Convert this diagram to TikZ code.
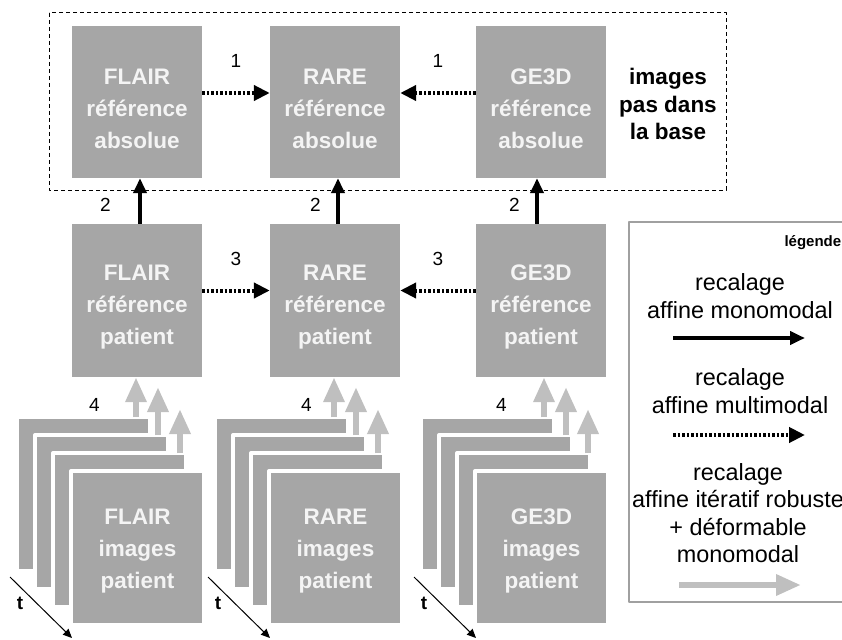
\documentclass[tikz,border=0pt]{standalone}
\usepackage{fontspec}
\setmainfont{Liberation Sans}
\usetikzlibrary{arrows.meta,positioning}
\definecolor{BoxGray}{HTML}{A6A6A6}
\definecolor{BoxText}{HTML}{F4F4F4}
\definecolor{ArrowGray}{HTML}{BFBFBF}
\definecolor{LegendGray}{HTML}{A0A0A0}
\newcommand{\reflift}{\rule{0pt}{29pt}}
\newcommand{\imglift}{\rule{0pt}{22pt}}

\begin{document}
\begin{tikzpicture}[x=1pt,y=-1pt,line join=round,
  refbox/.style={fill=BoxGray,text=BoxText,minimum width=130pt,minimum height=152pt,
    inner sep=0pt,align=center,font=\fontsize{22.5}{32}\selectfont\bfseries},
  imgframe/.style={refbox,draw=white,line width=4pt,outer sep=0pt,
    minimum width=133pt,minimum height=154pt},
  mono/.style={line width=4.5pt,-{Triangle[length=15pt,width=13pt]}},
  multi/.style={line width=4pt,dash pattern=on 2.5pt off 2pt,-{Triangle[length=16pt,width=15pt]}},
  deform/.style={draw=ArrowGray,line width=6.5pt,-{Triangle[length=25pt,width=20pt]}},
  taxis/.style={line width=1pt,-{Triangle[length=9pt,width=8pt]}},
  num/.style={font=\fontsize{19}{22}\selectfont,inner sep=2pt},
  tlabel/.style={font=\fontsize{19}{22}\selectfont\bfseries,inner sep=2pt},
  legtext/.style={align=center,font=\fontsize{23.4}{27.5}\selectfont}]
  \useasboundingbox (0,0) rectangle (842,639);

  % references absolues
  \draw[line width=1pt,dash pattern=on 4pt off 3pt] (49,13) rectangle (726,190);
  \node[refbox] (absFLAIR) at (137,102) {\reflift FLAIR\\référence\\absolue};
  \node[refbox] (absRARE) at (335,102) {\reflift RARE\\référence\\absolue};
  \node[refbox] (absGE3D) at (541,102) {\reflift GE3D\\référence\\absolue};
  \node[align=center,font=\fontsize{22.5}{27.5}\selectfont\bfseries] (nobase) at (668,104) {images\\pas dans\\la base};

  % references patient
  \node[refbox,minimum height=153pt] (patFLAIR) at (137,300.5) {\reflift FLAIR\\référence\\patient};
  \node[refbox,minimum height=153pt] (patRARE) at (335,300.5) {\reflift RARE\\référence\\patient};
  \node[refbox,minimum height=153pt] (patGE3D) at (541,300.5) {\reflift GE3D\\référence\\patient};

  % piles d'images
  \node[imgframe] (FLAIRa) at (83.5,494) {};
  \node[imgframe] (FLAIRb) at (101.5,512) {};
  \node[imgframe] (FLAIRc) at (119.5,530) {};
  \node[imgframe] (imgFLAIR) at (137.5,548) {\imglift FLAIR\\images\\patient};
  \node[imgframe] (RAREa) at (281.5,494) {};
  \node[imgframe] (RAREb) at (299.5,512) {};
  \node[imgframe] (RAREc) at (317.5,530) {};
  \node[imgframe] (imgRARE) at (335.5,548) {\imglift RARE\\images\\patient};
  \node[imgframe] (GE3Da) at (487.5,494) {};
  \node[imgframe] (GE3Db) at (505.5,512) {};
  \node[imgframe] (GE3Dc) at (523.5,530) {};
  \node[imgframe] (imgGE3D) at (541.5,548) {\imglift GE3D\\images\\patient};

  % recalages
  \draw[multi] ([yshift=9pt]absFLAIR.east) -- node[num,above=21pt] (oneL) {1} ([yshift=9pt]absRARE.west);
  \draw[multi] ([yshift=9pt]absGE3D.west) -- node[num,above=21pt] (oneR) {1} ([yshift=9pt]absRARE.east);
  \draw[multi] ([yshift=10pt]patFLAIR.east) -- node[num,above=21pt] (threeL) {3} ([yshift=10pt]patRARE.west);
  \draw[multi] ([yshift=10pt]patGE3D.west) -- node[num,above=21pt] (threeR) {3} ([yshift=10pt]patRARE.east);
  \draw[mono] ([xshift=3pt]patFLAIR.north) -- node[num,left=25pt,yshift=-4pt] (twoF) {2} ([xshift=3pt]absFLAIR.south);
  \draw[mono] ([xshift=3pt]patRARE.north) -- node[num,left=13pt,yshift=-4pt] (twoR) {2} ([xshift=3pt]absRARE.south);
  \draw[mono] ([xshift=-4pt]patGE3D.north) -- node[num,left=13pt,yshift=-4pt] (twoG) {2} ([xshift=-4pt]absGE3D.south);

  \draw[deform] ([xshift=52.5pt]FLAIRa.north) -- node[num,pos=.3,left=31pt] (fourF) {4} ([xshift=-1pt]patFLAIR.south);
  \draw[deform] ([xshift=56.5pt]FLAIRb.north) -- ++(0,-48);
  \draw[deform] ([xshift=60.5pt]FLAIRc.north) -- ++(0,-44);
  \draw[deform] ([xshift=52.5pt]RAREa.north) -- node[num,pos=.3,left=17pt] (fourR) {4} ([xshift=-1pt]patRARE.south);
  \draw[deform] ([xshift=56.5pt]RAREb.north) -- ++(0,-48);
  \draw[deform] ([xshift=60.5pt]RAREc.north) -- ++(0,-44);
  \draw[deform] ([xshift=56.5pt]GE3Da.north) -- node[num,pos=.3,left=32pt] (fourG) {4} ([xshift=3pt]patGE3D.south);
  \draw[deform] ([xshift=60.5pt]GE3Db.north) -- ++(0,-48);
  \draw[deform] ([xshift=64.5pt]GE3Dc.north) -- ++(0,-44);

  % axes du temps
  \draw[taxis] ([shift={(-7pt,-6pt)}]FLAIRa.south west) -- node[tlabel,pos=.43,left=11pt] (tF) {t} ++(62,61);
  \draw[taxis] ([shift={(-7pt,-6pt)}]RAREa.south west) -- node[tlabel,pos=.43,left=11pt] (tR) {t} ++(62,61);
  \draw[taxis] ([shift={(-7pt,-6pt)}]GE3Da.south west) -- node[tlabel,pos=.43,left=11pt] (tG) {t} ++(62,61);

  % legende
  \draw[LegendGray,line width=1.5pt] (629,222) rectangle (880,602);
  \node[anchor=west,font=\fontsize{15}{18}\selectfont\bfseries] (legtitle) at (781,243) {légende};
  \node[legtext] (legmono) at (740,296) {recalage\\affine monomodal};
  \node[legtext] (legmulti) at (740,391) {recalage\\affine multimodal};
  \node[legtext] (legdeform) at (738,513) {recalage\\affine itératif robuste\\+ déformable\\monomodal};
  \coordinate (monoA) at (673,338);
  \coordinate (monoB) at (805,338);
  \coordinate (multiA) at (673,435);
  \coordinate (multiB) at (805,435);
  \coordinate (deformA) at (679,585);
  \coordinate (deformB) at (801,585);
  \draw[mono] (monoA) -- (monoB);
  \draw[multi] (multiA) -- (multiB);
  \draw[deform] (deformA) -- (deformB);
\end{tikzpicture}
\end{document}
